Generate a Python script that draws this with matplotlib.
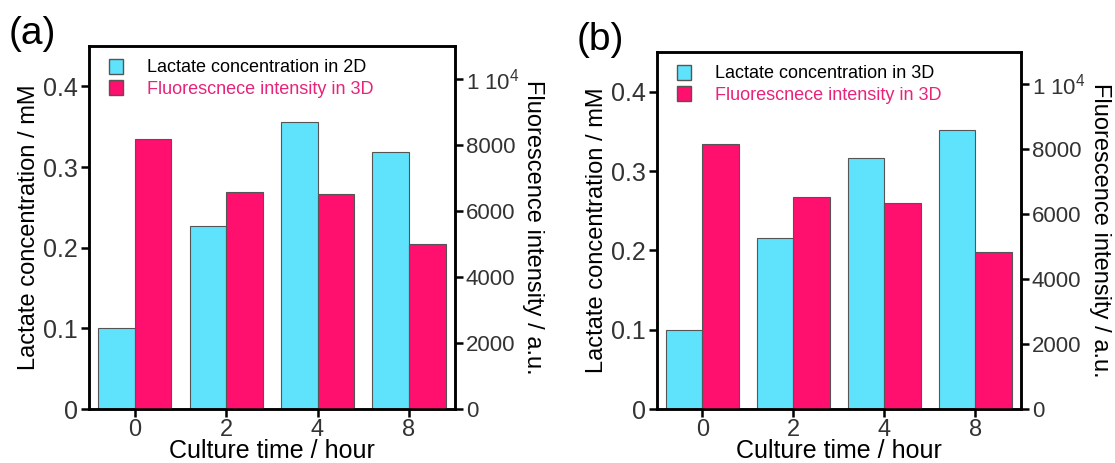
"""
lactate concentration vs fluorescence intensity, two panels
"""
import matplotlib
matplotlib.use("Agg")
import matplotlib.pyplot as plt
import numpy as np
from matplotlib.patches import Patch

plt.rcParams["font.family"] = ["Liberation Sans", "DejaVu Sans"]
plt.rcParams["mathtext.fontset"] = "custom"
plt.rcParams["mathtext.rm"] = "Liberation Sans"

hours = ["0", "2", "4", "8"]

# panel (a)
lactate_2d = [0.101, 0.227, 0.356, 0.318]
fluor_a = [8190, 6580, 6520, 5000]

# panel (b)
lactate_3d = [0.100, 0.215, 0.316, 0.352]
fluor_b = [8160, 6540, 6360, 4850]

right_ticks = [0, 2000, 4000, 6000, 8000, 10000]
right_tick_labels = ["0", "2000", "4000", "6000", "8000", "1 10$^{4}$"]

CYAN = "#5fe2fc"
PINK = "#ff0f6e"
PINK_TEXT = "#e8237a"
TICK_COLOR = "#333333"


def draw_panel(fig, rect, tag, lactate, fluor, lactate_name):
    """
    draw one twin-axis bar panel
    """
    x = np.arange(len(hours))
    ax = fig.add_axes(rect)
    ax2 = ax.twinx()
    ax.bar(x - 0.2, lactate, width=0.4, color=CYAN, edgecolor="#555555",
           linewidth=0.8, zorder=2)
    ax2.bar(x + 0.2, fluor, width=0.4, color=PINK, edgecolor="#555555",
            linewidth=0.8, zorder=2)

    ax.set_xlim(-0.5, 3.5)
    ax.set_ylim(0, 0.45)
    ax2.set_ylim(0, 11000)
    ax.set_xticks(x)
    ax.set_xticklabels(hours)
    ax.set_yticks([0, 0.1, 0.2, 0.3, 0.4])
    ax.set_yticklabels(["0", "0.1", "0.2", "0.3", "0.4"])
    ax2.set_yticks(right_ticks)
    ax2.set_yticklabels(right_tick_labels)

    for a in (ax, ax2):
        for spine in a.spines.values():
            spine.set_linewidth(1.8)
        a.tick_params(direction="out", length=6, width=1.8,
                      labelcolor=TICK_COLOR, pad=2)
    ax.tick_params(axis="y", labelsize=18)
    ax.tick_params(axis="x", labelsize=17, pad=1)
    ax2.tick_params(labelsize=16)

    ax.set_xlabel("Culture time / hour", fontsize=18, labelpad=-1)
    ax.set_ylabel("Lactate concentration / mM", fontsize=17, labelpad=2)
    ax2.set_ylabel("Fluorescence intensity / a.u.", fontsize=17,
                   rotation=270, labelpad=18)

    handles = [Patch(facecolor=CYAN, edgecolor="#555555"),
               Patch(facecolor=PINK, edgecolor="#555555")]
    leg = ax2.legend(handles, [lactate_name, "Fluorescnece intensity in 3D"],
                     loc="upper left", frameon=False, fontsize=13,
                     handlelength=0.8, handleheight=0.9, handletextpad=1.3,
                     labelspacing=0.2, borderaxespad=0.3,
                     bbox_to_anchor=(0.02, 1.0))
    leg.get_texts()[1].set_color(PINK_TEXT)

    fig.text(rect[0] - 0.072, rect[1] + rect[3] + 0.005, tag, fontsize=28)


fig = plt.figure(figsize=(11.15, 4.63), dpi=100)
draw_panel(fig, [0.0798, 0.1166, 0.328, 0.784], "(a)", lactate_2d, fluor_a,
           "Lactate concentration in 2D")
draw_panel(fig, [0.589, 0.1166, 0.3265, 0.771], "(b)", lactate_3d, fluor_b,
           "Lactate concentration in 3D")
fig.savefig("out.png", dpi=100)
